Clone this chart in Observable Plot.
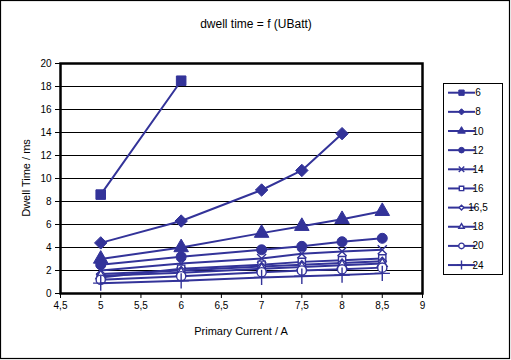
<!DOCTYPE html>
<html><head><meta charset="utf-8">
<script src="https://cdn.jsdelivr.net/npm/d3@7"></script>
<script src="https://cdn.jsdelivr.net/npm/@observablehq/plot@0.6"></script>
<style>
html,body{margin:0;padding:0;background:#fff;}
#chart{width:511px;height:360px;position:relative;}
svg{font-family:"Liberation Sans",Arial,sans-serif;}
</style></head><body><div id="chart"></div>
<script>
const xValues = [5, 6, 7, 7.5, 8, 8.5];
const seriesNames = ["6", "8", "10", "12", "14", "16", "16,5", "18", "20", "24"];
const s6 = [8.6, 18.5];
const s8 = [4.4, 6.3, 9.0, 10.7, 13.9];
const s10 = [3.0, 4.0, 5.25, 5.85, 6.45, 7.15];
const s12 = [2.5, 3.2, 3.8, 4.1, 4.5, 4.8];
const s14 = [2.0, 2.6, 3.05, 3.45, 3.65, 3.8];
const s16 = [1.4, 2.15, 2.5, 2.75, 2.9, 3.05];
const s16_5 = [1.7, 2.0, 2.35, 2.5, 2.65, 2.8];
const s18 = [1.55, 1.8, 2.15, 2.3, 2.45, 2.6];
const s20 = [1.2, 1.5, 1.85, 2.0, 2.1, 2.25];
const s24 = [0.9, 1.1, 1.4, 1.5, 1.6, 1.75];
const xTicks = [4.5, 5, 5.5, 6, 6.5, 7, 7.5, 8, 8.5, 9];
const yTicks = [0, 2, 4, 6, 8, 10, 12, 14, 16, 18, 20];
const title = "dwell time = f (UBatt)";
const xTitle = "Primary Current / A";
const yTitle = "Dwell Time / ms";

const seriesValues = [s6, s8, s10, s12, s14, s16, s16_5, s18, s20, s24];
const color = "#333399";
const styles = [
  {symbol: "square", r: 5.4, fill: color, sw: 1, legR: 3},
  {symbol: "diamond2", r: 5.6, fill: color, sw: 1, legR: 2.8},
  {symbol: "triangle", r: 5.4, fill: color, sw: 1, legR: 2.8},
  {symbol: "circle", r: 5, fill: color, sw: 1, legR: 2.8},
  {symbol: "times", r: 4.2, fill: "none", sw: 1.4, legR: 2.6},
  {symbol: "square2", r: 4.6, fill: "white", sw: 1.4, legR: 2.8},
  {symbol: "diamond2", r: 3.6, fill: "white", sw: 1.4, legR: 2.2},
  {symbol: "triangle2", r: 4.6, fill: "white", sw: 1.4, legR: 2.6},
  {symbol: "circle", r: 4.6, fill: "white", sw: 1.4, legR: 2.8},
  {symbol: "plus", r: 5, fill: "none", sw: 1.4, legR: 3}
];

const marks = [
  Plot.ruleY(yTicks.filter(v => v > 0 && v < 20), {stroke: "black", strokeWidth: 1})
];
seriesNames.forEach((name, i) => {
  const data = seriesValues[i].map((v, j) => ({x: xValues[j], y: v}));
  const st = styles[i];
  marks.push(Plot.line(data, {x: "x", y: "y", stroke: color, strokeWidth: 2}));
  marks.push(Plot.dot(data, {x: "x", y: "y", symbol: st.symbol, r: st.r, fill: st.fill, stroke: color, strokeWidth: st.sw}));
});
marks.push(Plot.frame({stroke: "black", strokeWidth: 2.5}));
marks.push(Plot.axisX(xTicks, {tickSize: 5, tickPadding: 3, tickFormat: d => String(d).replace(".", ","), fontSize: 10, label: null, stroke: "black"}));
marks.push(Plot.axisY(yTicks, {tickSize: 5, tickPadding: 4, fontSize: 10, label: null, stroke: "black"}));

const plot = Plot.plot({
  width: 511, height: 360,
  marginLeft: 60, marginRight: 89, marginTop: 63, marginBottom: 67,
  x: {domain: [4.5, 9]},
  y: {domain: [0, 20]},
  style: {fontFamily: "'Liberation Sans', Arial, sans-serif", fontSize: "10px", color: "black", background: "white", overflow: "visible"},
  marks
});
document.getElementById("chart").appendChild(plot);

const svg = d3.select(plot);
svg.append("rect").attr("x", 0.5).attr("y", 0.5).attr("width", 509).attr("height", 358)
  .attr("fill", "none").attr("stroke", "black").attr("stroke-width", 1.2);
svg.append("text").attr("x", 256).attr("y", 28).attr("text-anchor", "middle")
  .attr("font-size", 12).attr("fill", "black").text(title);
svg.append("text").attr("x", 241).attr("y", 335).attr("text-anchor", "middle")
  .attr("font-size", 11).attr("fill", "black").text(xTitle);
svg.append("text").attr("transform", "translate(30,178) rotate(-90)").attr("text-anchor", "middle")
  .attr("font-size", 11).attr("fill", "black").text(yTitle);

const leg = svg.append("g");
leg.append("rect").attr("x", 443.5).attr("y", 83.5).attr("width", 59).attr("height", 191)
  .attr("fill", "white").attr("stroke", "black").attr("stroke-width", 1);
const symMap = {square: d3.symbolSquare, diamond2: d3.symbolDiamond2, triangle: d3.symbolTriangle, circle: d3.symbolCircle,
  times: d3.symbolTimes, square2: d3.symbolSquare2, triangle2: d3.symbolTriangle2, plus: d3.symbolPlus};
seriesNames.forEach((name, i) => {
  const y = 92.7 + i * 19.15;
  const st = styles[i];
  leg.append("line").attr("x1", 448).attr("x2", 475).attr("y1", y).attr("y2", y)
    .attr("stroke", color).attr("stroke-width", 2);
  leg.append("path").attr("transform", `translate(461.5,${y})`)
    .attr("d", d3.symbol(symMap[st.symbol], Math.PI * st.legR * st.legR)())
    .attr("fill", st.fill).attr("stroke", color).attr("stroke-width", st.sw);
  leg.append("text").attr("x", 478).attr("y", y).attr("dy", "0.35em")
    .attr("font-size", 10).attr("fill", "black").text(name);
});
</script></body></html>
